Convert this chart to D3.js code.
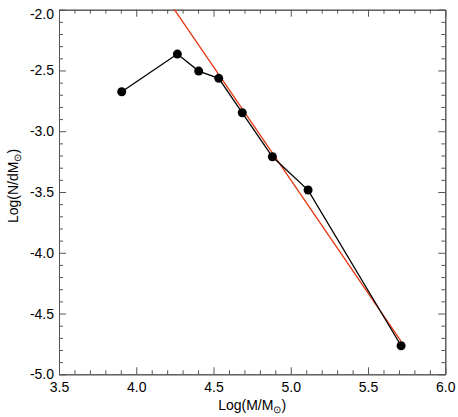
<!DOCTYPE html>
<html>
<head>
<meta charset="utf-8">
<script src="https://cdn.jsdelivr.net/npm/d3@7"></script>
<style>
  body { margin: 0; background: #fff; }
  text { font-family: "Liberation Sans", Arial, Helvetica, sans-serif; }
</style>
</head>
<body>
<div id="chart"></div>
<script>
// Log mass values of the binned points
var logMass = [3.906, 4.266, 4.404, 4.534, 4.686, 4.881, 5.112, 5.714];
// Log(N/dM) of the binned points
var logDens = [-2.675, -2.365, -2.505, -2.565, -2.848, -3.210, -3.484, -4.765];
// Red fit line end points
var fitX = [4.247, 5.714];
var fitY = [-2.0, -4.73];
// Tick values
var xMajor = [3.5, 4.0, 4.5, 5.0, 5.5, 6.0];
var yMajor = [-2.0, -2.5, -3.0, -3.5, -4.0, -4.5, -5.0];

var width = 458, height = 417;
// plot box (note: "top" is reserved on window, so use other names)
var padL = 59, padR = 445.3, padT = 9.7, padB = 374.3;

var svg = d3.select("#chart")
    .append("svg")
    .attr("width", width)
    .attr("height", height);

var xScale = d3.scaleLinear().domain([3.5, 6.0]).range([padL, padR]);
var yScale = d3.scaleLinear().domain([-5.0, -2.0]).range([padB, padT]);

// minor ticks every 0.1
var xMinor = d3.range(35, 61).map(function (d) { return d / 10; })
    .filter(function (d) { return xMajor.indexOf(d) < 0; });
var yMinor = d3.range(-50, -19).map(function (d) { return d / 10; })
    .filter(function (d) { return yMajor.indexOf(d) < 0; });

var axisColor = "#555";

function drawAxis(axisFn, scale, transform, major, minor, labels) {
    var g = svg.append("g").attr("transform", transform);
    g.append("g").call(axisFn(scale).tickValues(minor).tickSize(-4).tickSizeOuter(0).tickFormat(""));
    var m = g.append("g").call(axisFn(scale).tickValues(major).tickSize(-7).tickSizeOuter(0)
        .tickPadding(8)
        .tickFormat(labels ? d3.format(".1f") : ""));
    g.selectAll("path, line").attr("stroke", axisColor).attr("stroke-width", 1);
    m.selectAll("text")
        .attr("fill", "#000")
        .style("font-size", "14px");
    return m;
}

drawAxis(d3.axisBottom, xScale, "translate(0," + padB + ")", xMajor, xMinor, true);
drawAxis(d3.axisTop, xScale, "translate(0," + padT + ")", xMajor, xMinor, false);
var yl = drawAxis(d3.axisLeft, yScale, "translate(" + padL + ",0)", yMajor, yMinor, true);
drawAxis(d3.axisRight, yScale, "translate(" + padR + ",0)", yMajor, yMinor, false);

yl.selectAll("text").attr("x", -5).text(function (d) { return d3.format(".1f")(d).replace("\u2212", "-"); });
// nudge top label down like the original
yl.selectAll(".tick").filter(function (d) { return d === -2.0; }).select("text").attr("dy", "0.62em");

// Fit line
var fitData = fitX.map(function (d, i) { return [d, fitY[i]]; });
svg.append("path")
    .datum(fitData)
    .attr("fill", "none")
    .attr("stroke", "#e8350f")
    .attr("stroke-width", 1.3)
    .attr("d", d3.line()
        .x(function (d) { return xScale(d[0]); })
        .y(function (d) { return yScale(d[1]); }));

// Data line
var pts = logMass.map(function (d, i) { return [d, logDens[i]]; });
svg.append("path")
    .datum(pts)
    .attr("fill", "none")
    .attr("stroke", "#000")
    .attr("stroke-width", 1.3)
    .attr("d", d3.line()
        .x(function (d) { return xScale(d[0]); })
        .y(function (d) { return yScale(d[1]); }));

svg.selectAll("circle")
    .data(pts)
    .enter()
    .append("circle")
    .attr("cx", function (d) { return xScale(d[0]); })
    .attr("cy", function (d) { return yScale(d[1]); })
    .attr("r", 4.5)
    .attr("fill", "#000");

// Axis titles
var xt = svg.append("text")
    .attr("x", (padL + padR) / 2)
    .attr("y", 410)
    .attr("text-anchor", "middle")
    .style("font-size", "14px");
xt.append("tspan").text("Log(M/M");
xt.append("tspan").attr("dy", 3).style("font-size", "10px").text("\u2299");
xt.append("tspan").attr("dy", -3).text(")");

var yt = svg.append("text")
    .attr("transform", "translate(18," + ((padT + padB) / 2 - 6) + ") rotate(-90)")
    .attr("text-anchor", "middle")
    .style("font-size", "14px");
yt.append("tspan").text("Log(N/dM");
yt.append("tspan").attr("dy", 3).style("font-size", "10px").text("\u2299");
yt.append("tspan").attr("dy", -3).text(")");
</script>
</body>
</html>
